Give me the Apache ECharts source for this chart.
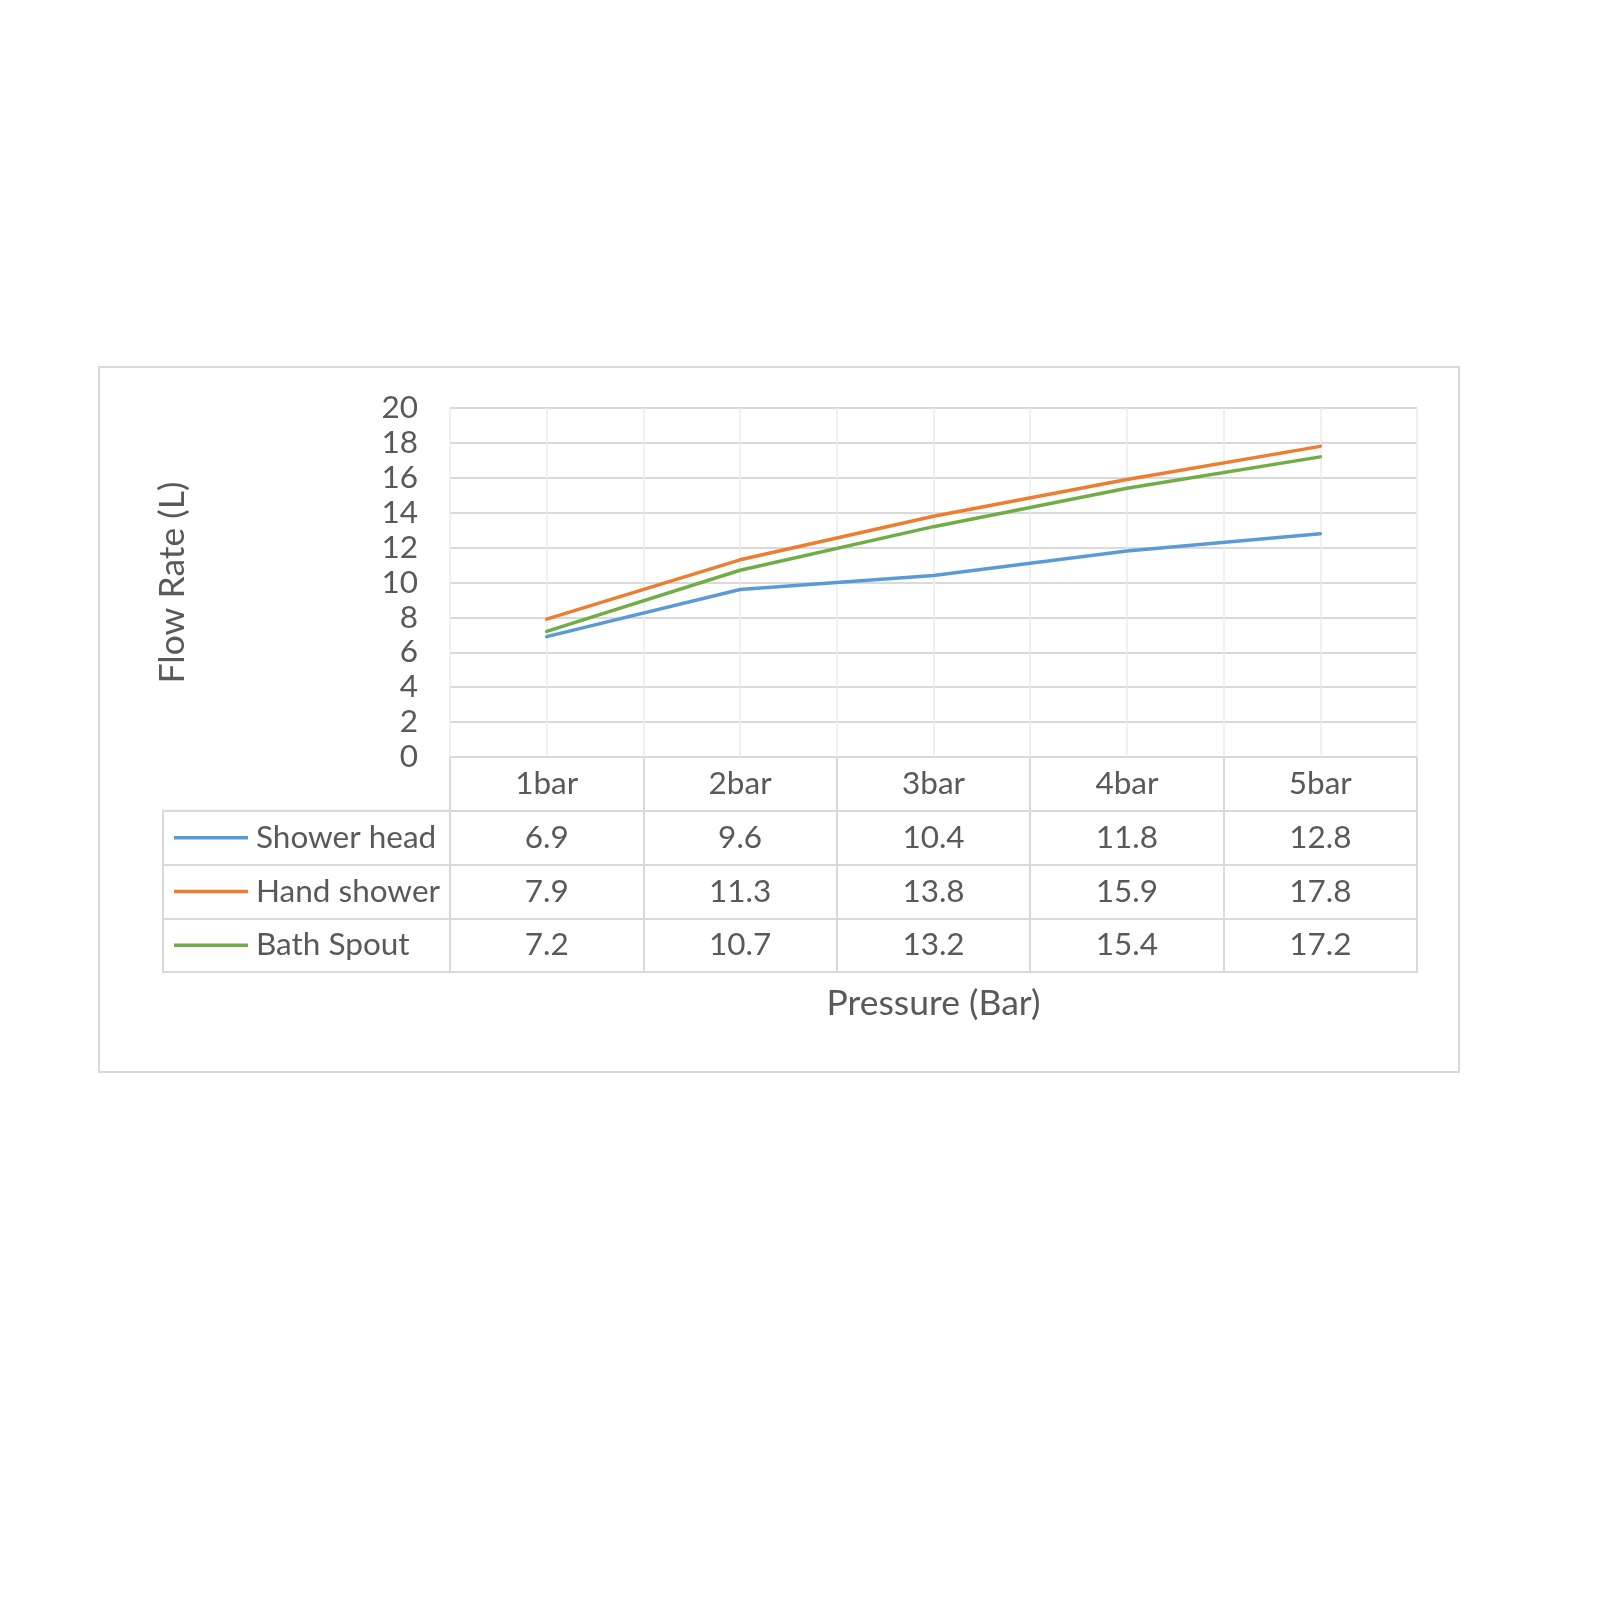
<!DOCTYPE html>
<html><head><meta charset="utf-8">
<script src="https://cdn.jsdelivr.net/npm/echarts@6/dist/echarts.min.js"></script>
<style>html,body{margin:0;padding:0;background:#fff}#c{width:1600px;height:1600px}</style>
</head><body><div id="c"></div>
<script>
const categories = ['1bar', '2bar', '3bar', '4bar', '5bar'];
const seriesNames = ['Shower head', 'Hand shower', 'Bath Spout'];
const showerHead = [6.9, 9.6, 10.4, 11.8, 12.8];
const handShower = [7.9, 11.3, 13.8, 15.9, 17.8];
const bathSpout = [7.2, 10.7, 13.2, 15.4, 17.2];
const yMin = 0, yMax = 20, yStep = 2;
const xTitle = 'Pressure (Bar)';
const yTitle = 'Flow Rate (L)';
const colors = ['#5B9BD5', '#ED7D31', '#70AD47'];

const allValues = [showerHead, handShower, bathSpout];
const FONT = 'Lato, "Open Sans", sans-serif';
const TXT = '#595959';
const GRID_C = '#d9d9d9';
const FS = 31.5, TFS = 35.5;

const plotL = 450, plotW = 967, plotT = 408, plotH = 349;
const tblT = plotT + plotH, tblH = 215, rowH = tblH / 4;
const legL = 163, legW = plotL - legL;

// cell texts for the table (header row + value rows)
const cells = [];
categories.forEach((c, i) => cells.push([i, 0, c]));
allValues.forEach((vals, r) => vals.forEach((v, i) => cells.push([i, r + 1, v.toFixed(1)])));

const chart = echarts.init(document.getElementById('c'), null, {renderer: 'canvas'});
chart.setOption({
  backgroundColor: '#fff',
  animation: false,
  color: colors,
  graphic: [{
    type: 'rect', shape: {x: 99, y: 367, width: 1360, height: 705},
    style: {fill: 'none', stroke: '#d9d9d9', lineWidth: 2}, z: -10
  }, {
    type: 'text', x: plotL + plotW / 2, y: 1004,
    style: {text: xTitle, font: TFS + 'px ' + FONT, fill: TXT, align: 'center', verticalAlign: 'middle'}
  }],
  grid: [
    {left: plotL, top: plotT, width: plotW, height: plotH},
    {left: plotL, top: tblT, width: plotW, height: tblH, show: true, borderColor: GRID_C, borderWidth: 2},
    {left: legL, top: tblT + rowH, width: legW, height: tblH - rowH, show: true, borderColor: GRID_C, borderWidth: 2}
  ],
  xAxis: [
    {type: 'category', gridIndex: 0, data: categories, boundaryGap: true,
     axisLine: {show: false}, axisTick: {show: false}, axisLabel: {show: false}, splitLine: {show: false}},
    {type: 'value', gridIndex: 0, min: 0, max: categories.length * 2, interval: 1,
     axisLine: {show: false}, axisTick: {show: false}, axisLabel: {show: false},
     splitLine: {show: true, lineStyle: {color: '#ebebeb', width: 1.5}}},
    {type: 'category', gridIndex: 1, data: categories, boundaryGap: true,
     axisLine: {show: false}, axisTick: {show: false}, axisLabel: {show: false},
     splitLine: {show: true, lineStyle: {color: GRID_C, width: 2}}},
    {type: 'value', gridIndex: 2, min: 0, max: 1, show: false}
  ],
  yAxis: [
    {type: 'value', gridIndex: 0, min: yMin, max: yMax, interval: yStep,
     axisLine: {show: false}, axisTick: {show: false},
     axisLabel: {color: TXT, fontSize: FS, fontFamily: FONT, margin: 32},
     splitLine: {show: true, lineStyle: {color: GRID_C, width: 2}},
     name: yTitle, nameLocation: 'middle', nameGap: 259,
     nameTextStyle: {color: TXT, fontSize: TFS, fontFamily: FONT}},
    {type: 'category', gridIndex: 1, data: [''].concat(seriesNames), inverse: true,
     axisLine: {show: false}, axisTick: {show: false}, axisLabel: {show: false},
     splitLine: {show: true, lineStyle: {color: GRID_C, width: 2}}},
    {type: 'category', gridIndex: 2, data: seriesNames, inverse: true,
     axisLine: {show: false}, axisTick: {show: false}, axisLabel: {show: false},
     splitLine: {show: true, lineStyle: {color: GRID_C, width: 2}}}
  ],
  series: [
    ...allValues.map((vals, k) => ({
      name: seriesNames[k], type: 'line', xAxisIndex: 0, yAxisIndex: 0,
      data: vals, symbol: 'none', lineStyle: {width: 3.5, color: colors[k], cap: 'round'}, z: 5
    })),
    {
      type: 'custom', xAxisIndex: 2, yAxisIndex: 1,
      data: cells.map(c => [c[0], c[1]]),
      renderItem: (params, api) => {
        const p = api.coord([api.value(0), api.value(1)]);
        return {type: 'text', x: p[0], y: p[1],
          style: {text: cells[params.dataIndex][2], font: FS + 'px ' + FONT, fill: TXT, align: 'center', verticalAlign: 'middle'}};
      }
    },
    {
      type: 'custom', xAxisIndex: 3, yAxisIndex: 2,
      data: seriesNames.map((n, r) => [0, r]),
      renderItem: (params, api) => {
        const p = api.coord([api.value(0), api.value(1)]);
        const r = params.dataIndex;
        return {type: 'group', children: [
          {type: 'line', shape: {x1: p[0] + 11, y1: p[1], x2: p[0] + 85, y2: p[1]},
           style: {stroke: colors[r], lineWidth: 3.5}},
          {type: 'text', x: p[0] + 93, y: p[1],
           style: {text: seriesNames[r], font: FS + 'px ' + FONT, fill: TXT, align: 'left', verticalAlign: 'middle'}}
        ]};
      }
    }
  ]
});
</script>
</body></html>
